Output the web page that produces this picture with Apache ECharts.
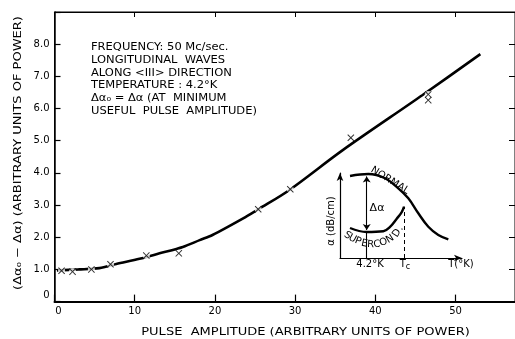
<!DOCTYPE html>
<html><head><meta charset="utf-8">
<script src="https://cdn.jsdelivr.net/npm/echarts@6/dist/echarts.min.js"></script>
<style>html,body{margin:0;padding:0;background:#fff}#c{width:515px;height:339px;background:#fff}</style>
</head><body><div id="c"></div>
<script>
// measured points (x markers)
const pulseAmp   = [0.88, 2.25, 4.6, 6.98, 11.45, 15.5, 25.4, 29.4, 36.95, 46.6, 46.6];
const deltaAlpha = [0.96, 0.93, 1.0, 1.16, 1.43, 1.5, 2.87, 3.49, 5.09, 6.44, 6.26];
// drawn curve
const curveX = [0.3, 3, 5.6, 7.7, 10.6, 13.1, 16, 18.1, 19.7, 23.9, 25.5, 29.3, 35.9, 45.9, 53.1];
const curveY = [0.97, 1.0, 1.04, 1.17, 1.33, 1.5, 1.7, 1.91, 2.07, 2.64, 2.88, 3.47, 4.7, 6.42, 7.69];
const xTickValues = [0, 10, 20, 30, 40, 50];
const yTickValues = [0, 1, 2, 3, 4, 5, 6, 7, 8];
// inset schematic (arbitrary units 0..10)
const normalT = [0.82, 2.32, 3.69, 4.78, 5.6, 6.42, 7.24, 8.06, 8.88];
const normalA = [9.65, 9.88, 9.38, 8.2, 7.02, 5.26, 3.68, 2.71, 2.2];
const superT  = [0.82, 2.19, 3.55, 4.1, 4.65, 5.06, 5.25];
const superA  = [3.53, 3.06, 3.14, 3.65, 4.62, 5.41, 6.04];
const insetT42 = 2.19, insetTc = 5.25;
const deltaLow = 3.3, deltaHigh = 9.6, superAt42 = 3.06, normalAtTc = 6.04;

const xTitle = 'PULSE  AMPLITUDE (ARBITRARY UNITS OF POWER)';
const yTitle = '(Δα₀ − Δα) (ARBITRARY UNITS OF POWER)';
const annotation = ['FREQUENCY: 50 Mc/sec.', 'LONGITUDINAL  WAVES', 'ALONG <III> DIRECTION',
  'TEMPERATURE : 4.2°K', 'Δα₀ = Δα (AT  MINIMUM', 'USEFUL  PULSE  AMPLITUDE)'];

const FF = 'DejaVu Sans';
const chart = echarts.init(document.getElementById('c'));
const pts = pulseAmp.map((x, i) => [x, deltaAlpha[i]]);
const XSYM = 'path://M0,1L1,0L5,4L9,0L10,1L6,5L10,9L9,10L5,6L1,10L0,9L4,5Z';
const font = s => s + 'px "' + FF + '"';

const superLetters = [
  ['S', 347.5, 235.5, -32], ['U', 352.5, 238.6, -28], ['P', 358, 241.3, -22], ['E', 364.3, 243.6, -12],
  ['R', 370.6, 244.6, -3], ['C', 377, 244.4, 6], ['O', 383.4, 242.4, 18], ['N', 390, 239, 32],
  ['D', 396.8, 233.2, 58], ['.', 400.3, 228, 60]
];
const graphics = [
  {type: 'text', x: 91, y: 41, scaleX: 1.15, style: {text: annotation.join('\n'), font: font(10), fill: '#000', lineHeight: 12.8, verticalAlign: 'top', align: 'left'}},
  {type: 'text', x: 305.5, y: 332.5, scaleX: 1.24, style: {text: xTitle, font: font(10.5), fill: '#000', align: 'center', verticalAlign: 'middle'}},
  {type: 'text', x: 18, y: 153, scaleX: 1.24, rotation: Math.PI / 2, style: {text: yTitle, font: font(10.5), fill: '#000', align: 'center', verticalAlign: 'middle'}},
  {type: 'text', x: 331.5, y: 221, rotation: Math.PI / 2, style: {text: 'α (dB/cm)', font: font(10), fill: '#000', align: 'center', verticalAlign: 'middle'}},
  {type: 'text', x: 370, y: 264.5, style: {text: '4.2°K', font: font(10), fill: '#000', align: 'center', verticalAlign: 'middle'}},
  {type: 'text', x: 405, y: 264.5, style: {text: 'T{s|c}', font: font(10), fill: '#000', align: 'center', verticalAlign: 'middle', rich: {s: {fontSize: 8, fontFamily: FF, padding: [5, 0, 0, 0]}}}},
  {type: 'text', x: 461, y: 264.5, style: {text: 'T(°K)', font: font(10), fill: '#000', align: 'center', verticalAlign: 'middle'}},
  {type: 'text', x: 377, y: 208.5, style: {text: 'Δα', font: font(11), fill: '#000', align: 'center', verticalAlign: 'middle'}},
  {type: 'text', x: 390, y: 180.5, rotation: -32 * Math.PI / 180, style: {text: 'NORMAL', font: font(10), fill: '#000', align: 'center', verticalAlign: 'middle'}}
].concat(superLetters.map(l => ({type: 'text', x: l[1], y: l[2], rotation: l[3] * Math.PI / 180,
  style: {text: l[0], font: font(10), fill: '#000', align: 'center', verticalAlign: 'middle'}})));

const option = {
  animation: false,
  grid: [
    {left: 54.5, right: -1, top: 12, bottom: 37.4, show: true, backgroundColor: 'transparent', borderColor: '#000', borderWidth: 1},
    {left: 340, top: 173, width: 122, height: 85}
  ],
  xAxis: [
    {type: 'value', gridIndex: 0, position: 'bottom', min: 0, max: 57.42, interval: 10,
     axisLine: {show: true, onZero: false, lineStyle: {color: '#000', width: 2}},
     axisTick: {show: true, inside: true, length: 7, lineStyle: {color: '#000', width: 1.2}},
     axisLabel: {show: true, color: '#000', fontSize: 10, fontFamily: FF, margin: 5, showMaxLabel: false,
       formatter: v => xTickValues.includes(v) ? (v === 0 ? '{z|0}' : String(v)) : '',
       rich: {z: {padding: [0, 0, 0, 8], fontSize: 10, fontFamily: FF}}},
     splitLine: {show: false}},
    {type: 'value', gridIndex: 0, position: 'top', min: 0, max: 57.42, interval: 10,
     axisLine: {show: true, onZero: false, lineStyle: {color: '#000', width: 1.2}},
     axisTick: {show: true, inside: true, length: 5, lineStyle: {color: '#000', width: 1}},
     axisLabel: {show: false}, splitLine: {show: false}},
    {type: 'value', gridIndex: 1, min: 0, max: 10,
     axisLine: {show: true, onZero: false, symbol: ['none', 'arrow'], symbolSize: [5, 8], lineStyle: {color: '#000', width: 1.2}},
     axisTick: {show: false}, axisLabel: {show: false}, splitLine: {show: false}}
  ],
  yAxis: [
    {type: 'value', gridIndex: 0, position: 'left', min: 0, max: 9, interval: 1,
     axisLine: {show: true, onZero: false, lineStyle: {color: '#000', width: 1.5}},
     axisTick: {show: true, inside: true, length: 6, lineStyle: {color: '#000', width: 1.2}},
     axisLabel: {show: true, color: '#000', fontSize: 10, fontFamily: FF, margin: 5,
       formatter: v => yTickValues.includes(v) ? (v === 0 ? '{z|0}' : v.toFixed(1)) : '',
       rich: {z: {padding: [0, 0, 12, 0], fontSize: 10, fontFamily: FF}}},
     splitLine: {show: false}},
    {type: 'value', gridIndex: 0, position: 'right', min: 0, max: 9, interval: 1,
     axisLine: {show: false, onZero: false},
     axisTick: {show: true, inside: true, length: 6, lineStyle: {color: '#000', width: 1}},
     axisLabel: {show: false}, splitLine: {show: false}},
    {type: 'value', gridIndex: 1, min: 0, max: 10,
     axisLine: {show: true, onZero: false, symbol: ['none', 'arrow'], symbolSize: [5, 8], lineStyle: {color: '#000', width: 1.2}},
     axisTick: {show: false}, axisLabel: {show: false}, splitLine: {show: false}}
  ],
  series: [
    {type: 'line', xAxisIndex: 0, yAxisIndex: 0, data: curveX.map((x, i) => [x, curveY[i]]),
     smooth: 0.3, showSymbol: false, symbol: 'none', lineStyle: {color: '#000', width: 2.6}, z: 2, silent: true},
    {type: 'scatter', xAxisIndex: 0, yAxisIndex: 0, data: pts, symbol: 'circle', symbolSize: 7,
     itemStyle: {color: '#fff'}, z: 3, silent: true},
    {type: 'scatter', xAxisIndex: 0, yAxisIndex: 0, data: pts, symbol: XSYM, symbolSize: 7,
     itemStyle: {color: '#000'}, z: 4, silent: true},
    {type: 'line', xAxisIndex: 2, yAxisIndex: 2, data: normalT.map((x, i) => [x, normalA[i]]),
     smooth: 0.4, symbol: 'none', lineStyle: {color: '#000', width: 2.4}, silent: true},
    {type: 'line', xAxisIndex: 2, yAxisIndex: 2, data: superT.map((x, i) => [x, superA[i]]),
     smooth: 0.4, symbol: 'none', lineStyle: {color: '#000', width: 2.4}, silent: true,
     markLine: {silent: true, animation: false, label: {show: false},
       data: [
         [{coord: [insetT42, deltaLow], symbol: 'arrow', symbolSize: 6}, {coord: [insetT42, deltaHigh], symbol: 'arrow', symbolSize: 6,
           lineStyle: {color: '#000', width: 1.1, type: 'solid'}}],
         [{coord: [insetT42, 0], symbol: 'none'}, {coord: [insetT42, superAt42], symbol: 'none', lineStyle: {color: '#000', width: 1.1, type: 'solid'}}],
         [{coord: [insetTc, 0], symbol: 'none'}, {coord: [insetTc, normalAtTc], symbol: 'none', lineStyle: {color: '#000', width: 1, type: [4, 3]}}]
       ],
       lineStyle: {color: '#000', width: 1.1, type: 'solid'}}}
  ]
};
chart.setOption(option);
chart.setOption({graphic: graphics});
</script>
</body></html>
